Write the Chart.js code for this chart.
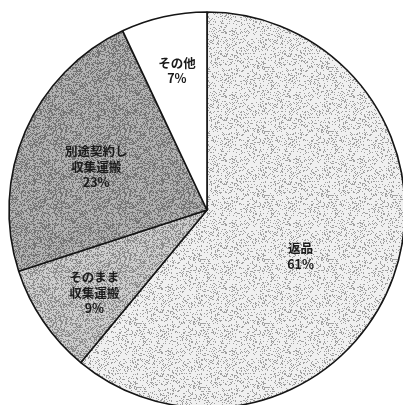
<!DOCTYPE html>
<html lang="ja">
<head>
<meta charset="utf-8">
<script src="https://cdn.jsdelivr.net/npm/chart.js@4"></script>
<style>
  html, body { margin: 0; padding: 0; background: #fff; overflow: hidden; width: 403px; height: 405px; }
  #wrap { position: absolute; left: -13px; top: -10px; width: 440px; height: 440px; }
</style>
</head>
<body>
<div id="wrap"><canvas id="pie"></canvas></div>
<script>
// 処理方法の内訳（％）
const categories = ['返品', 'そのまま収集運搬', '別途契約し収集運搬', 'その他'];
const shares = [61, 9, 23, 7];
// 表示用ラベル（改行位置）
const labelLines = [
  ['返品', '61%'],
  ['そのまま', '収集運搬', '9%'],
  ['別途契約し', '収集運搬', '23%'],
  ['その他', '7%']
];

// 網点風のテクスチャ（ハッシュで決まった点）
function texture(bg, fg, density) {
  const n = 64;
  const c = document.createElement('canvas');
  c.width = n; c.height = n;
  const g = c.getContext('2d');
  g.fillStyle = bg;
  g.fillRect(0, 0, n, n);
  g.fillStyle = fg;
  for (let y = 0; y < n; y++) {
    for (let x = 0; x < n; x++) {
      let h = (Math.imul(x, 374761393) + Math.imul(y, 668265263)) | 0;
      h = Math.imul(h ^ (h >>> 13), 1274126177);
      h ^= h >>> 16;
      if (((h >>> 0) % 100) < density) g.fillRect(x, y, 1, 1);
    }
  }
  return g.createPattern(c, 'repeat');
}

const fills = [
  texture('#f0f0f0', '#a0a0a0', 20),
  texture('#cdcdcd', '#8c8c8c', 40),
  texture('#b2b2b2', '#747474', 42),
  '#ffffff'
];

// ラベル位置（半径比と微調整）
const labelDist = [0.54, 0.70, 0.61, 0.72];
const labelNudge = [[-7, 10], [2, 5], [0, 5], [1, 0]];

const sliceLabels = {
  id: 'sliceLabels',
  afterDatasetsDraw(chart) {
    const ctx = chart.ctx;
    const arcs = chart.getDatasetMeta(0).data;
    ctx.save();
    ctx.font = 'bold 12.5px "Noto Sans CJK JP", "Noto Sans", sans-serif';
    ctx.fillStyle = '#1a1a1a';
    ctx.textAlign = 'center';
    ctx.textBaseline = 'middle';
    arcs.forEach((arc, i) => {
      const mid = (arc.startAngle + arc.endAngle) / 2;
      const r = arc.outerRadius * labelDist[i];
      const cx = arc.x + Math.cos(mid) * r + labelNudge[i][0];
      const cy = arc.y + Math.sin(mid) * r + labelNudge[i][1];
      const lines = labelLines[i];
      const lh = 15.5;
      lines.forEach((t, k) => {
        ctx.fillText(t, cx, cy + (k - (lines.length - 1) / 2) * lh);
      });
    });
    ctx.restore();
  }
};

new Chart(document.getElementById('pie'), {
  type: 'pie',
  data: {
    labels: categories,
    datasets: [{
      data: shares,
      backgroundColor: fills,
      borderColor: '#151515',
      borderWidth: 1.6,
      radius: 198
    }]
  },
  options: {
    responsive: true,
    maintainAspectRatio: false,
    animation: false,
    layout: { padding: 0 },
    plugins: { legend: { display: false }, tooltip: { enabled: false } }
  },
  plugins: [sliceLabels]
});
</script>
</body>
</html>
